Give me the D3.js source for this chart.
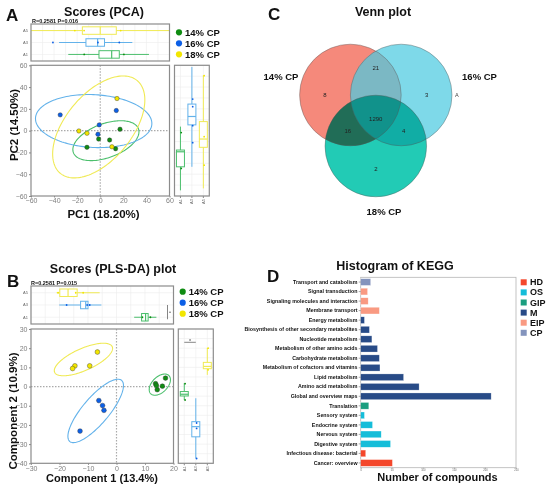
<!DOCTYPE html>
<html>
<head>
<meta charset="utf-8">
<script src="https://cdn.jsdelivr.net/npm/d3@7"></script>
<style>
  body { margin: 0; background: #fff; }
  text { font-family: Arial, "Liberation Sans", sans-serif; }
</style>
</head>
<body>
<script>
// ---------- data ----------
const groups = ["14% CP", "16% CP", "18% CP"];
const groupIds = ["A1", "A3", "A5"];

// panel A, PCA scores
const pcaX14 = [17.1, -1.4, 8.1, -11.5, 13.3];
const pcaY14 = [1.3, -7.7, -8.6, -15.3, -16.6];
const pcaX16 = [-34.7, 13.9, -0.9, -2.0];
const pcaY16 = [14.5, 18.5, 5.3, -3.3];
const pcaX18 = [14.5, -18.5, -11.5, 10.1];
const pcaY18 = [29.5, -0.3, -2.4, -14.8];
// confidence ellipses: centre x, centre y, semi axis u (x,y), semi axis v (x,y)
const pcaEll14 = [4.9, -9.2, 28.2, 10.9, -5.0, 14.7];
const pcaEll16 = [-5.7, 8.8, 50.4, -2.8, 1.2, 24.2];
const pcaEll18 = [-1.3, 3.4, 33.4, 42.5, -21.9, 19.6];
// box stats [min, q1, median, q3, max]
const pcaTopBox = [[-27.7, -1.1, 9.9, 16.5, 42.2], [-35.7, -12.4, -2.3, 3.7, 27.8], [-60, -15.5, 0, 13.9, 60]];
const pcaTopPts = [[-13.9, 20.5], [-41, -2, 16.5], [-22, -14, 17.7]];
const pcaSideBox = [[-54.8, -33.2, -19.4, -17.8, 3.7], [-33.2, 5.3, 13, 24.4, 58.5], [-53, -15.3, -7.7, 8.3, 50.8]];
const pcaSidePts = [[-1.8, -34.7], [29, 22, 4.6, -11], [50.5, -5.5, -31.7]];

// panel B, PLS-DA scores
const plsX14 = [13.7, 17.2, 16.1, 14.3, 14.0];
const plsY14 = [1.5, 4.4, 0.2, -1.6, 0.5];
const plsX16 = [-6.2, -4.9, -4.4, -12.8];
const plsY16 = [-7.3, -9.9, -12.4, -23.2];
const plsX18 = [-6.7, -9.4, -14.6, -15.4];
const plsY18 = [18, 10.8, 10.8, 9.4];
const plsEll14 = [15.2, 1.0, 3.2, 4.7, 1.9, -2.9];
const plsEll16 = [-7.3, -12.7, 9.1, 15.9, 3.5, -4.5];
const plsEll18 = [-11.6, 14.1, 10.1, 6.7, 1.6, -5.2];
const plsTopBox = [[6.2, 8.8, 10.2, 11.1, 14], [-20.1, -12.6, -10.8, -10, -5.3], [-21, -19.9, -17, -13.8, -5.9]];
const plsTopPts = [[9.1, 11.9], [-17.5, -10.3, -9.4], [-20.5, -14.3, -11.7]];
const plsSideBox = [[-7, -4.9, -4, -2.6, 1.8], [-37.5, -26.2, -20.9, -18.3, -6.1], [6.1, 9.3, 10.5, 12.6, 20.1]];
const plsSidePts = [[1.5, -7], [-19, -21.8, -37.5], [20, 8.7]];

// panel C, Venn counts
const vennSets = ["14% CP", "16% CP", "18% CP"];
const vennOnly = [8, 3, 2];          // 14, 16, 18
const vennPairs = [21, 16, 4];       // 14&16, 14&18, 16&18
const vennAll = 1290;

// panel D, KEGG
const keggTerms = ["Transport and catabolism", "Signal transduction", "Signaling molecules and interaction",
  "Membrane transport", "Energy metabolism", "Biosynthesis of other secondary metabolites",
  "Nucleotide metabolism", "Metabolism of other amino acids", "Carbohydrate metabolism",
  "Metabolism of cofactors and vitamins", "Lipid metabolism", "Amino acid metabolism",
  "Global and overview maps", "Translation", "Sensory system", "Endocrine system",
  "Nervous system", "Digestive system", "Infectious disease: bacterial", "Cancer: overview"];
const keggValues = [16, 11, 12, 30, 6, 14, 18, 27, 30, 31, 69, 94, 210, 13, 6, 19, 33, 48, 8, 51];
const keggClass = ["CP", "EIP", "EIP", "EIP", "M", "M", "M", "M", "M", "M", "M", "M", "M",
  "GIP", "OS", "OS", "OS", "OS", "HD", "HD"];
const keggClasses = ["HD", "OS", "GIP", "M", "EIP", "CP"];
const keggTicks = [0, 50, 100, 150, 200, 250];

// ---------- styles ----------
const dotCol = ["#0f8c12", "#0c5fe6", "#f2e600"];
const lineCol = ["#4cbf6d", "#63b2ea", "#f0ea55"];
const keggCol = ["#f4472b", "#15bdd9", "#1b9e7f", "#284b87", "#f99a82", "#8494bd"];

const svg = d3.select("body").append("svg").attr("width", 550).attr("height", 488);

function label(x, y, t, size, opts = {}) {
  return svg.append("text").attr("x", x).attr("y", y).text(t)
    .attr("font-size", size).attr("font-weight", opts.weight || "bold")
    .attr("fill", opts.fill || "#111").attr("text-anchor", opts.anchor || "start");
}

function ellPath(xs, ys, e) {
  const [cx, cy, ux, uy, vx, vy] = e;
  const pts = d3.range(0, 2 * Math.PI, 0.04).map(t =>
    [xs(cx + ux * Math.cos(t) + vx * Math.sin(t)), ys(cy + uy * Math.cos(t) + vy * Math.sin(t))]);
  return d3.line()(pts) + "Z";
}

function frame(g, x0, y0, x1, y1) {
  g.append("rect").attr("x", x0).attr("y", y0).attr("width", x1 - x0).attr("height", y1 - y0)
    .attr("fill", "none").attr("stroke", "#8c8c8c").attr("stroke-width", 1.2);
}

function scoresPanel(p) {
  const g = svg.append("g");
  const x = d3.scaleLinear().domain(p.xDom).range([p.x0, p.x1]);
  const y = d3.scaleLinear().domain(p.yDom).range([p.y1, p.y0]);
  const id = "clip" + p.key;
  g.append("clipPath").attr("id", id).append("rect")
    .attr("x", p.x0).attr("y", p.y0).attr("width", p.x1 - p.x0).attr("height", p.y1 - p.y0);
  const body = g.append("g").attr("clip-path", `url(#${id})`);
  body.append("line").attr("x1", x(0)).attr("x2", x(0)).attr("y1", p.y0).attr("y2", p.y1)
    .attr("stroke", "#aaa").attr("stroke-dasharray", "1.5,1.5").attr("stroke-width", 1.2);
  body.append("line").attr("y1", y(0)).attr("y2", y(0)).attr("x1", p.x0).attr("x2", p.x1)
    .attr("stroke", "#aaa").attr("stroke-dasharray", "1.5,1.5").attr("stroke-width", 1.2);
  body.selectAll("path.ell").data(p.ells).join("path")
    .attr("d", e => ellPath(x, y, e)).attr("fill", "none")
    .attr("stroke", (d, i) => lineCol[i]).attr("stroke-width", 1.1);
  p.xs.forEach((xs, gi) => {
    body.selectAll(null).data(xs).join("circle")
      .attr("cx", d => x(d)).attr("cy", (d, i) => y(p.ys[gi][i])).attr("r", p.r)
      .attr("fill", dotCol[gi]).attr("stroke", "#333").attr("stroke-width", 0.4);
  });
  frame(g, p.x0, p.y0, p.x1, p.y1);
  const ax = g.append("g").attr("transform", `translate(0,${p.y1})`)
    .call(d3.axisBottom(x).tickValues(p.xTicks).tickSize(1.5).tickPadding(0.8));
  const ay = g.append("g").attr("transform", `translate(${p.x0},0)`)
    .call(d3.axisLeft(y).tickValues(p.yTicks).tickSize(2).tickPadding(1.5));
  [ax, ay].forEach(a => {
    a.select(".domain").remove();
    a.selectAll("line").attr("stroke", "#888");
    a.selectAll("text").attr("fill", "#7f7f7f").attr("font-size", 7).attr("font-family", "Arial");
  });

  // top box plot
  const tg = svg.append("g");
  const ty = d3.scalePoint().domain([2, 1, 0]).range([p.ty0, p.ty1]).padding(0.55);
  x.ticks(12).forEach(v => tg.append("line").attr("x1", x(v)).attr("x2", x(v))
    .attr("y1", p.ty0).attr("y2", p.ty1).attr("stroke", "#ececec").attr("stroke-width", 0.6));
  [0, 1, 2].forEach(i => tg.append("line").attr("x1", p.x0).attr("x2", p.x1)
    .attr("y1", ty(i)).attr("y2", ty(i)).attr("stroke", "#ececec").attr("stroke-width", 0.6));
  p.topBox.forEach((b, i) => {
    const c = lineCol[i], yy = ty(i), h = 7.5;
    tg.append("line").attr("x1", x(b[0])).attr("x2", x(b[4])).attr("y1", yy).attr("y2", yy)
      .attr("stroke", c).attr("stroke-width", 1);
    tg.append("rect").attr("x", x(b[1])).attr("width", x(b[3]) - x(b[1]))
      .attr("y", yy - h / 2).attr("height", h).attr("fill", "#fff").attr("stroke", c).attr("stroke-width", 1);
    tg.append("line").attr("x1", x(b[2])).attr("x2", x(b[2])).attr("y1", yy - h / 2).attr("y2", yy + h / 2)
      .attr("stroke", c).attr("stroke-width", 1.2);
    tg.selectAll(null).data(p.topPts[i]).join("circle")
      .attr("cx", d => x(d)).attr("cy", yy).attr("r", 0.9).attr("fill", dotCol[i]);
    tg.append("text").attr("x", p.x0 - 3).attr("y", yy + 1.3).attr("text-anchor", "end")
      .attr("font-size", 4).attr("fill", "#666").text(groupIds[i]);
  });
  frame(tg, p.x0, p.ty0, p.x1, p.ty1);

  // side box plot
  const sg = svg.append("g");
  const sx = d3.scalePoint().domain([0, 1, 2]).range([p.sx0, p.sx1]).padding(0.52);
  y.ticks(14).forEach(v => sg.append("line").attr("x1", p.sx0).attr("x2", p.sx1)
    .attr("y1", y(v)).attr("y2", y(v)).attr("stroke", "#ececec").attr("stroke-width", 0.6));
  [0, 1, 2].forEach(i => sg.append("line").attr("x1", sx(i)).attr("x2", sx(i))
    .attr("y1", p.y0).attr("y2", p.y1).attr("stroke", "#ececec").attr("stroke-width", 0.6));
  p.sideBox.forEach((b, i) => {
    const c = lineCol[i], xx = sx(i), w = 8;
    sg.append("line").attr("x1", xx).attr("x2", xx).attr("y1", y(b[0])).attr("y2", y(b[4]))
      .attr("stroke", c).attr("stroke-width", 1);
    sg.append("rect").attr("x", xx - w / 2).attr("width", w).attr("y", y(b[3]))
      .attr("height", y(b[1]) - y(b[3])).attr("fill", "#fff").attr("stroke", c).attr("stroke-width", 1);
    sg.append("line").attr("x1", xx - w / 2).attr("x2", xx + w / 2).attr("y1", y(b[2])).attr("y2", y(b[2]))
      .attr("stroke", c).attr("stroke-width", 1.2);
    sg.selectAll(null).data(p.sidePts[i]).join("circle")
      .attr("cx", xx + 0.8).attr("cy", d => y(d)).attr("r", 0.9).attr("fill", dotCol[i]);
    sg.append("line").attr("x1", xx).attr("x2", xx).attr("y1", p.y1).attr("y2", p.y1 + 2).attr("stroke", "#888");
    sg.append("text").attr("transform", `translate(${xx + 1.3},${p.y1 + 3}) rotate(-90)`)
      .attr("text-anchor", "end").attr("font-size", 4).attr("fill", "#666").text(groupIds[i]);
  });
  frame(sg, p.sx0, p.y0, p.sx1, p.y1);

  // legend
  groups.forEach((t, i) => {
    const ly = p.ly + i * 11;
    svg.append("circle").attr("cx", p.lx).attr("cy", ly).attr("r", 3.1).attr("fill", dotCol[i]);
    label(p.lx + 6, ly + 3.4, t, 9.5);
  });
  return { x, y, sx, ty };
}

// ---------- panel A ----------
label(6, 21, "A", 17);
label(104, 16, "Scores (PCA)", 12.5, { anchor: "middle" });
label(32, 22.5, "R=0.2581 P=0.016", 5.5);
scoresPanel({
  key: "A", xDom: [-60, 60], yDom: [-60, 60], x0: 31, x1: 169.5, y0: 65.3, y1: 196,
  xTicks: d3.range(-60, 61, 20), yTicks: d3.range(-60, 61, 20), r: 2.2,
  xs: [pcaX14, pcaX16, pcaX18], ys: [pcaY14, pcaY16, pcaY18], ells: [pcaEll14, pcaEll16, pcaEll18],
  ty0: 24, ty1: 61, topBox: pcaTopBox, topPts: pcaTopPts,
  sx0: 174.5, sx1: 209.3, sideBox: pcaSideBox, sidePts: pcaSidePts,
  lx: 179, ly: 32.3
});
label(103.5, 218, "PC1 (18.20%)", 11.5, { anchor: "middle" });
svg.append("text").attr("transform", "translate(18,125) rotate(-90)").attr("text-anchor", "middle")
  .attr("font-size", 11.5).attr("font-weight", "bold").attr("fill", "#111").text("PC2 (14.50%)");

// ---------- panel B ----------
label(7, 287, "B", 17);
label(113, 273, "Scores (PLS-DA) plot", 12.5, { anchor: "middle" });
label(31, 284.5, "R=0.2581 P=0.015", 5.5);
const pB = scoresPanel({
  key: "B", xDom: [-30, 20], yDom: [-40, 30], x0: 31, x1: 173.5, y0: 329, y1: 463.3,
  xTicks: d3.range(-30, 21, 10), yTicks: d3.range(-40, 31, 10), r: 2.4,
  xs: [plsX14, plsX16, plsX18], ys: [plsY14, plsY16, plsY18], ells: [plsEll14, plsEll16, plsEll18],
  ty0: 286, ty1: 324, topBox: plsTopBox, topPts: plsTopPts,
  sx0: 178.3, sx1: 213.3, sideBox: plsSideBox, sidePts: plsSidePts,
  lx: 182.7, ly: 291.7
});
// significance marks
svg.append("line").attr("x1", pB.x.range()[1] - 6).attr("x2", pB.x.range()[1] - 6)
  .attr("y1", pB.ty(1)).attr("y2", pB.ty(0) + 2).attr("stroke", "#333").attr("stroke-width", 0.6);
svg.append("circle").attr("cx", pB.x.range()[1] - 3.5).attr("cy", (pB.ty(1) + pB.ty(0)) / 2 + 1).attr("r", 0.7).attr("fill", "#333");
svg.append("line").attr("x1", pB.sx(0)).attr("x2", pB.sx(1)).attr("y1", 342.3).attr("y2", 342.3)
  .attr("stroke", "#333").attr("stroke-width", 0.6);
svg.append("circle").attr("cx", (pB.sx(0) + pB.sx(1)) / 2).attr("cy", 340).attr("r", 0.7).attr("fill", "#333");
label(102, 481.5, "Component 1 (13.4%)", 11, { anchor: "middle" });
svg.append("text").attr("transform", "translate(17,411) rotate(-90)").attr("text-anchor", "middle")
  .attr("font-size", 11.5).attr("font-weight", "bold").attr("fill", "#111").text("Component 2 (10.9%)");

// ---------- panel C: Venn ----------
label(268, 19.5, "C", 17);
label(383, 16, "Venn plot", 12.5, { anchor: "middle" });
{
  const vx = d3.scaleLinear().domain([-1, 1]).range([325, 426.6]);
  const vy = d3.scaleLinear().domain([0, 1]).range([95, 146]);
  const cen = [[-0.5, 0], [0.5, 0], [0, 1]];
  const r = 1; // in venn units
  const rPx = vx(r) - vx(0);
  const fills = ["#f5897b", "#4ccae0", "#22cbb5"];
  const vg = svg.append("g");
  vg.append("circle").attr("cx", vx(cen[0][0])).attr("cy", vy(cen[0][1])).attr("r", rPx).attr("fill", fills[0]);
  vg.append("circle").attr("cx", vx(cen[1][0])).attr("cy", vy(cen[1][1])).attr("r", rPx)
    .attr("fill", fills[1]).attr("fill-opacity", 0.72);
  vg.append("circle").attr("cx", vx(cen[2][0])).attr("cy", vy(cen[2][1])).attr("r", rPx)
    .attr("fill", fills[2]).style("mix-blend-mode", "multiply");
  cen.forEach(c => vg.append("circle").attr("cx", vx(c[0])).attr("cy", vy(c[1])).attr("r", rPx)
    .attr("fill", "none").attr("stroke", "#555").attr("stroke-width", 0.5).attr("stroke-opacity", 0.8));
  const mid = (a, b) => [(a[0] + b[0]) / 2, (a[1] + b[1]) / 2];
  const push = (p, from, k) => {
    const dx = p[0] - from[0], dy = p[1] - from[1], l = Math.hypot(dx, dy);
    return [p[0] + dx / l * k, p[1] + dy / l * k];
  };
  const cAll = [(cen[0][0] + cen[1][0] + cen[2][0]) / 3, (cen[0][1] + cen[1][1] + cen[2][1]) / 3];
  const spots = [
    [push(cen[0], cen[1], 0.5), vennOnly[0]],
    [push(cen[1], cen[0], 0.5), vennOnly[1]],
    [push(cen[2], mid(cen[0], cen[1]), 0.46), vennOnly[2]],
    [push(mid(cen[0], cen[1]), cen[2], 0.52), vennPairs[0]],
    [push(mid(cen[0], cen[2]), cen[1], 0.36), vennPairs[1]],
    [push(mid(cen[1], cen[2]), cen[0], 0.36), vennPairs[2]],
    [[cAll[0], cAll[1] + 0.14], vennAll]
  ];
  spots.forEach(([pt, v]) => vg.append("text").attr("x", vx(pt[0])).attr("y", vy(pt[1]) + 2)
    .attr("text-anchor", "middle").attr("font-size", 6).attr("fill", "#222").text(v));
  vg.append("text").attr("x", vx(cen[1][0]) + rPx + 3).attr("y", vy(cen[1][1]) + 2)
    .attr("font-size", 5.5).attr("fill", "#444").text("A");
  label(281, 80, vennSets[0], 9.5, { anchor: "middle" });
  label(479.5, 80, vennSets[1], 9.5, { anchor: "middle" });
  label(384, 215, vennSets[2], 9.5, { anchor: "middle" });
}

// ---------- panel D: KEGG ----------
label(267, 282, "D", 17);
label(395, 270, "Histogram of KEGG", 12.5, { anchor: "middle" });
{
  const x = d3.scaleLinear().domain([0, 250]).range([360.7, 516]);
  const y = d3.scaleBand().domain(keggTerms).range([277.3, 467.7]).paddingInner(0.3).paddingOuter(0.15);
  const col = d3.scaleOrdinal().domain(keggClasses).range(keggCol);
  const g = svg.append("g");
  g.append("rect").attr("x", 360.7).attr("y", 277.3).attr("width", 516 - 360.7).attr("height", 467.7 - 277.3)
    .attr("fill", "none").attr("stroke", "#b5b5b5").attr("stroke-width", 0.8);
  g.selectAll("rect.bar").data(keggTerms).join("rect").attr("class", "bar")
    .attr("x", x(0)).attr("y", d => y(d)).attr("height", y.bandwidth())
    .attr("width", (d, i) => x(keggValues[i]) - x(0))
    .attr("fill", (d, i) => col(keggClass[i])).attr("stroke", "#fff").attr("stroke-opacity", 0.5).attr("stroke-width", 0.5);
  const ay = g.append("g").attr("transform", "translate(360.7,0)")
    .call(d3.axisLeft(y).tickSize(2).tickPadding(1.2));
  ay.select(".domain").remove();
  ay.selectAll("line").attr("stroke", "#555").attr("stroke-width", 0.5);
  ay.selectAll("text").attr("font-size", 5.3).attr("font-weight", "bold").attr("fill", "#111").attr("font-family", "Arial");
  const ax = g.append("g").attr("transform", "translate(0,467.7)")
    .call(d3.axisBottom(x).tickValues(keggTicks).tickSize(1).tickPadding(0.4));
  ax.select(".domain").remove();
  ax.selectAll("line").attr("stroke", "#777").attr("stroke-width", 0.4);
  ax.selectAll("text").attr("font-size", 2.6).attr("fill", "#666").attr("font-family", "Arial");
  label(437.5, 481, "Number of compounds", 11, { anchor: "middle" });
  keggClasses.forEach((c, i) => {
    const ly = 279.3 + i * 10.1;
    svg.append("rect").attr("x", 520.7).attr("y", ly).attr("width", 6).attr("height", 6).attr("fill", col(c));
    label(530, ly + 6, c, 9);
  });
}
</script>
</body>
</html>
